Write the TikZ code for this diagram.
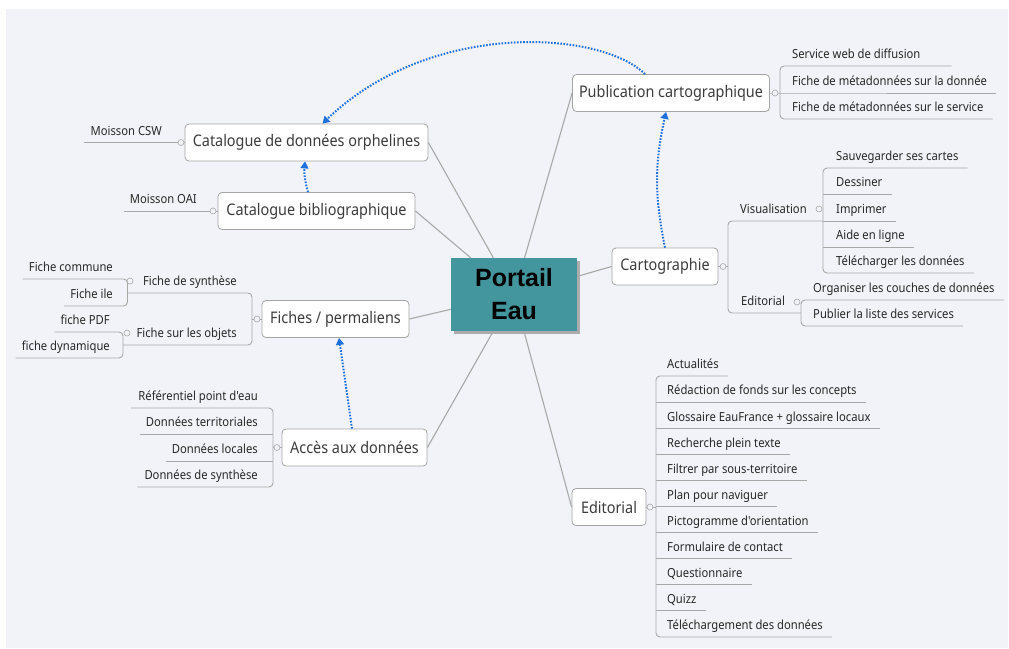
\documentclass[tikz,border=0pt]{standalone}
\usepackage{fontspec}
\setmainfont{Noto Sans}
\newfontfamily\leaffont[FakeStretch=0.9]{Noto Sans}
\newfontfamily\centralfont{Liberation Sans}
\usetikzlibrary{calc,arrows.meta,shadows}

\definecolor{panel}{RGB}{242,243,248}
\definecolor{teal}{RGB}{68,150,158}
\definecolor{boxgrey}{RGB}{165,165,165}
\definecolor{linegrey}{RGB}{168,168,168}
\definecolor{textdark}{RGB}{40,40,40}
\definecolor{topictext}{RGB}{60,60,60}
\definecolor{relblue}{RGB}{30,112,220}

\tikzset{
  central/.style={fill=teal, minimum width=126pt, minimum height=73pt,
    inner sep=0pt, align=center, text=black,
    font=\centralfont\bfseries\fontsize{25}{33}\selectfont,
    drop shadow={shadow xshift=3pt, shadow yshift=-3pt, fill=black!55, opacity=0.55}},
  topic/.style={draw=boxgrey, fill=white, rounded corners=4pt, line width=0.8pt,
    minimum height=37pt, inner xsep=6pt, inner ysep=0pt, text=topictext,
    font=\leaffont\fontsize{16}{18}\selectfont},
  leaf/.style={inner sep=0pt, text height=10pt, text depth=7pt, text=textdark,
    font=\leaffont\fontsize{12.5}{14}\selectfont},
  trunk/.style={draw=linegrey, line width=1.1pt},
  branch/.style={draw=linegrey, line width=0.9pt},
  knob/.style={circle, draw=linegrey, fill=panel, line width=0.6pt,
    minimum size=6pt, inner sep=0pt},
  rel/.style={draw=relblue, line width=2pt,
    dash pattern=on 1.6pt off 1.5pt,
    -{Triangle[length=7pt,width=8pt]}}
}

\begin{document}
\begin{tikzpicture}[x=1pt,y=-1pt]
  % page and panel
  \fill[white] (0,0) rectangle (1009,648);
  \fill[panel] (6,9) rectangle (1008,648);
  \useasboundingbox (0,0) rectangle (1009,648);

  % central topic and main topics
  \node[central] (portail) at (514,294.5) {Portail\\Eau};
  \node[topic, minimum width=197pt] (pub)     at (671,93)     {Publication cartographique};
  \node[topic, minimum width=243pt] (catorph) at (306.5,142.5) {Catalogue de données orphelines};
  \node[topic, minimum width=197pt] (catbib)  at (316.5,211)  {Catalogue bibliographique};
  \node[topic, minimum width=147pt] (fiches)  at (335.5,319)  {Fiches / permaliens};
  \node[topic, minimum width=145pt] (acces)   at (354.5,447.5) {Accès aux données};
  \node[topic, minimum width=106pt] (cart)    at (665,266.5)  {Cartographie};
  \node[topic, minimum width=74pt]  (edit)    at (609,507)    {Editorial};

  % trunk lines from the centre
  \draw[trunk] (portail) -- (pub.west);
  \draw[trunk] (portail) -- (catorph.east);
  \draw[trunk] (portail) -- (catbib.east);
  \draw[trunk] (portail) -- (fiches.east);
  \draw[trunk] (portail) -- (acces.east);
  \draw[trunk] (portail) -- (cart.west);
  \draw[trunk] (portail) -- (edit.west);

  % --- Publication cartographique
  \node[leaf, anchor=south west] (p1) at (792,66)  {Service web de diffusion};
  \node[leaf, anchor=south west] (p2) at (792,93)  {Fiche de métadonnées sur la donnée};
  \node[leaf, anchor=south west] (p3) at (792,119) {Fiche de métadonnées sur le service};
  \draw[branch] (pub.east) -- (780,93) -- ($(p2.south east)+(9,0)$);
  \draw[branch, rounded corners=4pt] ($(p1.south east)+(31,0)$) -- (780,66)
        -- (780,119) -- ($(p3.south east)+(9,0)$);
  \node[knob] (kpub) at (775,93) {};

  % --- Cartographie
  \node[leaf, anchor=south west] (cv) at (740,221) {Visualisation};
  \node[leaf, anchor=south west] (ce) at (741,313) {Editorial};
  \draw[branch] (cart.east) -- (728,266.5);
  \draw[branch, rounded corners=4pt] (823,221) -- (728,221) -- (728,313) -- (801,313);
  \node[knob] (kcart) at (723,266.5) {};

  \node[leaf, anchor=south west] (v1) at (836,168) {Sauvegarder ses cartes};
  \node[leaf, anchor=south west] (v2) at (836,194) {Dessiner};
  \node[leaf, anchor=south west] (v3) at (836,221) {Imprimer};
  \node[leaf, anchor=south west] (v4) at (836,247) {Aide en ligne};
  \node[leaf, anchor=south west] (v5) at (836,273) {Télécharger les données};
  \draw[branch, rounded corners=4pt] ($(v1.south east)+(9,0)$) -- (823,168)
        -- (823,273) -- ($(v5.south east)+(9,0)$);
  \draw[branch] (823,194) -- ($(v2.south east)+(9,0)$);
  \draw[branch] (823,221) -- ($(v3.south east)+(9,0)$);
  \draw[branch] (823,247) -- ($(v4.south east)+(9,0)$);
  \node[knob] (kvis) at (819,209) {};

  \node[leaf, anchor=south west] (o1) at (813,300) {Organiser les couches de données};
  \node[leaf, anchor=south west] (o2) at (813,326) {Publier la liste des services};
  \draw[branch, rounded corners=4pt] ($(o1.south east)+(9,0)$) -- (801,300)
        -- (801,326) -- ($(o2.south east)+(9,0)$);
  \node[knob] (kce) at (797,302) {};

  % --- Editorial
  \foreach \txt [count=\i] in {Actualités,
      Rédaction de fonds sur les concepts,
      Glossaire EauFrance + glossaire locaux,
      Recherche plein texte,
      Filtrer par sous-territoire,
      Plan pour naviguer,
      Pictogramme d'orientation,
      Formulaire de contact,
      Questionnaire,
      Quizz,
      Téléchargement des données} {
    \pgfmathsetmacro\uy{376+26.1*(\i-1)}
    \node[leaf, anchor=south west] (e\i) at (667,\uy) {\txt};
    \ifnum\i>1\ifnum\i<11
      \draw[branch] (656,\uy) -- ($(e\i.south east)+(9,0)$);
    \fi\fi
  }
  \draw[branch, rounded corners=4pt] ($(e1.south east)+(9,0)$) -- (656,376)
        -- (656,637) -- ($(e11.south east)+(9,0)$);
  \draw[branch] (edit.east) -- (656,507);
  \node[knob] (kedit) at (650,507) {};

  % --- Catalogues
  \node[leaf, anchor=south east] (mcsw) at (162,142.5) {Moisson CSW};
  \draw[branch] ($(mcsw.south west)+(-6,0)$) -- (catorph.west);
  \node[knob] (kcat) at (181,142.5) {};
  \node[leaf, anchor=south east] (moai) at (197,211) {Moisson OAI};
  \draw[branch] ($(moai.south west)+(-6,0)$) -- (catbib.west);
  \node[knob] (kbib) at (213,211) {};

  % --- Fiches / permaliens
  \node[leaf, anchor=south east] (fs) at (237,293) {Fiche de synthèse};
  \node[leaf, anchor=south east] (fo) at (237,345) {Fiche sur les objets};
  \draw[branch] (fiches.west) -- (252,319);
  \draw[branch, rounded corners=4pt] (127.5,293) -- (252,293) -- (252,345) -- (123,345);
  \node[knob] (kfich) at (257,319) {};

  \node[leaf, anchor=south east] (fc) at (113,279) {Fiche commune};
  \node[leaf, anchor=south east] (fi) at (113,306) {Fiche ile};
  \draw[branch, rounded corners=4pt] ($(fc.south west)+(-6,0)$) -- (127.5,279)
        -- (127.5,306) -- ($(fi.south west)+(-6,0)$);
  \node[knob] (kfs) at (130,281) {};

  \node[leaf, anchor=south east] (fp) at (110,332) {fiche PDF};
  \node[leaf, anchor=south east] (fd) at (110,358) {fiche dynamique};
  \draw[branch, rounded corners=4pt] ($(fp.south west)+(-6,0)$) -- (123,332)
        -- (123,358) -- ($(fd.south west)+(-6,0)$);
  \node[knob] (kfo) at (127,333) {};

  % --- Accès aux données
  \node[leaf, anchor=south east] (a1) at (258,408) {Référentiel point d'eau};
  \node[leaf, anchor=south east] (a2) at (258,434) {Données territoriales};
  \node[leaf, anchor=south east] (a3) at (258,461) {Données locales};
  \node[leaf, anchor=south east] (a4) at (258,487) {Données de synthèse};
  \draw[branch, rounded corners=4pt] ($(a1.south west)+(-7,0)$) -- (273,408)
        -- (273,487) -- ($(a4.south west)+(-7,0)$);
  \draw[branch] ($(a2.south west)+(-6,0)$) -- (273,434);
  \draw[branch] ($(a3.south west)+(-6,0)$) -- (273,461);
  \draw[branch] (acces.west) -- (273,447.5);
  \node[knob] (kacc) at (277,447.5) {};

  % relationship arrows
  \draw[rel] ([xshift=-26pt]pub.north) .. controls (600,30) and (430,20)
        .. ([xshift=16pt]catorph.north);
  \draw[rel] (cart.north) to[bend left=12] ([xshift=-5pt]pub.south);
  \draw[rel] ([xshift=-8.5pt]catbib.north) to[bend left=10] ([xshift=-1.5pt]catorph.south);
  \draw[rel] ([xshift=-2.5pt]acces.north) -- ([xshift=3.5pt]fiches.south);
\end{tikzpicture}
\end{document}
